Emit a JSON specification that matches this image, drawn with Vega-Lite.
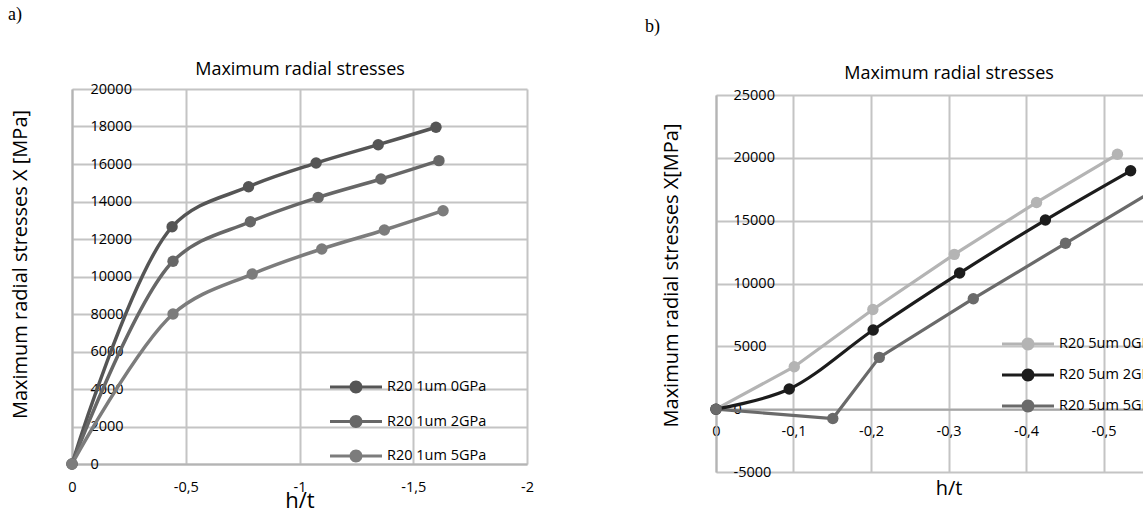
{
  "$schema": "https://vega.github.io/schema/vega-lite/v6.json",
  "background": "white",
  "padding": {"left": 8, "top": 6, "right": 0, "bottom": 0},
  "bounds": "flush",
  "spacing": 189,
  "resolve": {
    "scale": {"color": "independent", "stroke": "independent"},
    "legend": {"color": "independent", "stroke": "independent"}
  },
  "config": {
    "font": "Open Sans",
    "view": {"stroke": null},
    "axis": {
      "labelColor": "#000000",
      "labelFont": "Open Sans",
      "labelFontSize": 14.5,
      "titleColor": "#000000",
      "titleFont": "Open Sans",
      "titleFontWeight": "normal",
      "gridColor": "#c4c4c4",
      "gridWidth": 2,
      "domainColor": "#b4b4b4",
      "domainWidth": 2,
      "ticks": false,
      "labelOverlap": false,
      "labelFlush": false
    },
    "legend": {
      "labelColor": "#000000",
      "labelFont": "Open Sans",
      "labelFontSize": 14.5
    },
    "title": {
      "font": "Liberation Serif",
      "fontSize": 18,
      "fontWeight": "normal",
      "color": "#000000",
      "anchor": "start",
      "frame": "group"
    }
  },
  "datasets": {
    "a": [
      {"series": "R20 1um 0GPa", "h": 0, "s": 0},
      {"series": "R20 1um 0GPa", "h": -0.44, "s": 12650},
      {"series": "R20 1um 0GPa", "h": -0.776, "s": 14790},
      {"series": "R20 1um 0GPa", "h": -1.073, "s": 16050},
      {"series": "R20 1um 0GPa", "h": -1.346, "s": 17030},
      {"series": "R20 1um 0GPa", "h": -1.6, "s": 17960},
      {"series": "R20 1um 2GPa", "h": 0, "s": 0},
      {"series": "R20 1um 2GPa", "h": -0.444, "s": 10810},
      {"series": "R20 1um 2GPa", "h": -0.784, "s": 12920},
      {"series": "R20 1um 2GPa", "h": -1.082, "s": 14220},
      {"series": "R20 1um 2GPa", "h": -1.358, "s": 15200},
      {"series": "R20 1um 2GPa", "h": -1.613, "s": 16180},
      {"series": "R20 1um 5GPa", "h": 0, "s": 0},
      {"series": "R20 1um 5GPa", "h": -0.444, "s": 8000},
      {"series": "R20 1um 5GPa", "h": -0.792, "s": 10130},
      {"series": "R20 1um 5GPa", "h": -1.098, "s": 11470},
      {"series": "R20 1um 5GPa", "h": -1.373, "s": 12480},
      {"series": "R20 1um 5GPa", "h": -1.631, "s": 13510}
    ],
    "b": [
      {"series": "R20 5um 0GPa", "h": 0, "s": 0},
      {"series": "R20 5um 0GPa", "h": -0.101, "s": 3380},
      {"series": "R20 5um 0GPa", "h": -0.2024, "s": 7930},
      {"series": "R20 5um 0GPa", "h": -0.3075, "s": 12320},
      {"series": "R20 5um 0GPa", "h": -0.4136, "s": 16450},
      {"series": "R20 5um 0GPa", "h": -0.518, "s": 20280},
      {"series": "R20 5um 2GPa", "h": 0, "s": 0},
      {"series": "R20 5um 2GPa", "h": -0.0945, "s": 1600},
      {"series": "R20 5um 2GPa", "h": -0.2028, "s": 6300},
      {"series": "R20 5um 2GPa", "h": -0.3144, "s": 10830},
      {"series": "R20 5um 2GPa", "h": -0.425, "s": 15050},
      {"series": "R20 5um 2GPa", "h": -0.535, "s": 18970},
      {"series": "R20 5um 5GPa", "h": 0, "s": 0},
      {"series": "R20 5um 5GPa", "h": -0.1507, "s": -745},
      {"series": "R20 5um 5GPa", "h": -0.2107, "s": 4120},
      {"series": "R20 5um 5GPa", "h": -0.332, "s": 8790},
      {"series": "R20 5um 5GPa", "h": -0.451, "s": 13200},
      {"series": "R20 5um 5GPa", "h": -0.57, "s": 17600}
    ]
  },
  "hconcat": [
    {
      "width": 455,
      "height": 375,
      "title": {"text": "a)", "dx": -64, "offset": 36},
      "data": {"name": "a"},
      "layer": [
        {
          "mark": {"type": "line", "interpolate": "catmull-rom", "strokeWidth": 3.5},
          "encoding": {
            "x": {
              "field": "h", "type": "quantitative",
              "scale": {"domain": [0, -2], "nice": false},
              "axis": {
                "orient": "bottom",
                "values": [0, -0.5, -1, -1.5, -2],
                "labelExpr": "replace(replace(format(datum.value, '~g'), '.', ','), '\u2212', '-')",
                "labelPadding": 16,
                "grid": true,
                "title": "h/t",
                "titleFontSize": 22,
                "titlePadding": -3
              }
            },
            "y": {
              "field": "s", "type": "quantitative",
              "scale": {"domain": [0, 20000], "nice": false},
              "axis": {
                "values": [0, 2000, 4000, 6000, 8000, 10000, 12000, 14000, 16000, 18000, 20000],
                "labelExpr": "replace(format(datum.value, '~g'), '\u2212', '-')",
                "labelAlign": "left",
                "labelBaseline": "middle",
                "labelPadding": -18,
                "grid": true,
                "title": "Maximum radial stresses  X [MPa]",
                "titleFontSize": 20,
                "titlePadding": 42,
                "titleY": 175
              }
            },
            "stroke": {
              "field": "series", "type": "nominal",
              "scale": {"domain": ["R20 1um 5GPa", "R20 1um 2GPa", "R20 1um 0GPa"], "range": ["#7c7c7c", "#676767", "#555555"]},
              "legend": null
            }
          }
        },
        {
          "mark": {"type": "point", "filled": true, "size": 130, "opacity": 1},
          "encoding": {
            "x": {
              "field": "h", "type": "quantitative",
              "axis": {
                "orient": "top",
                "labels": false, "ticks": false, "domain": false, "grid": false,
                "title": "Maximum radial stresses",
                "titleFontSize": 18,
                "titlePadding": 11
              }
            },
            "y": {
              "field": "s", "type": "quantitative",
              "axis": {
                "values": [0, 2000, 4000, 6000, 8000, 10000, 12000, 14000, 16000, 18000, 20000],
                "labelExpr": "replace(format(datum.value, '~g'), '\u2212', '-')",
                "labelAlign": "left",
                "labelBaseline": "middle",
                "labelPadding": -18,
                "grid": true,
                "title": "Maximum radial stresses  X [MPa]",
                "titleFontSize": 20,
                "titlePadding": 42,
                "titleY": 175
              }
            },
            "color": {
              "field": "series", "type": "nominal",
              "scale": {"domain": ["R20 1um 0GPa", "R20 1um 2GPa", "R20 1um 5GPa"], "range": ["#555555", "#676767", "#7c7c7c"]},
              "legend": {
                "title": null,
                "orient": "none",
                "legendX": 271,
                "legendY": 285,
                "direction": "vertical",
                "padding": 0,
                "symbolType": "M-2,-0.12H2V0.12H-2Z M0.5,0A0.5,0.5,0,1,1,-0.5,0A0.5,0.5,0,1,1,0.5,0Z",
                "symbolSize": 676,
                "symbolStrokeWidth": 0,
                "labelOffset": 18,
                "rowPadding": 14.5
              }
            }
          }
        }
      ]
    },
    {
      "width": 465,
      "height": 389,
      "title": {"text": "b)", "dx": -71, "offset": 28},
      "data": {"name": "b"},
      "layer": [
        {
          "transform": [{"filter": "datum.series !== 'R20 5um 2GPa'"}],
          "mark": {"type": "line", "interpolate": "linear", "strokeWidth": 3.2},
          "encoding": {
            "x": {
              "field": "h", "type": "quantitative",
              "scale": {"domain": [0, -0.6], "nice": false},
              "axis": {
                "orient": "bottom",
                "offset": -68.8,
                "values": [0, -0.1, -0.2, -0.3, -0.4, -0.5],
                "labelExpr": "replace(replace(format(datum.value, '~g'), '.', ','), '\u2212', '-')",
                "labelPadding": 15,
                "grid": true,
                "domainColor": "#a6a6a6",
                "title": "h/t",
                "titleFontSize": 20,
                "titlePadding": 41
              }
            },
            "y": {
              "field": "s", "type": "quantitative",
              "scale": {"domain": [-5000, 25000], "range": [383, 6], "nice": false},
              "axis": {
                "values": [-5000, 0, 5000, 10000, 15000, 20000, 25000],
                "labelExpr": "replace(format(datum.value, '~g'), '\u2212', '-')",
                "labelAlign": "left",
                "labelBaseline": "middle",
                "labelPadding": -17,
                "grid": true,
                "title": "Maximum radial stresses X[MPa]",
                "titleFontSize": 20,
                "titlePadding": 35,
                "titleY": 186
              }
            },
            "stroke": {
              "field": "series", "type": "nominal",
              "scale": {"domain": ["R20 5um 5GPa", "R20 5um 2GPa", "R20 5um 0GPa"], "range": ["#6a6a6a", "#1c1c1c", "#b4b4b4"]},
              "legend": null
            }
          }
        },
        {
          "transform": [{"filter": "datum.series === 'R20 5um 2GPa'"}],
          "mark": {"type": "line", "interpolate": "catmull-rom", "strokeWidth": 3.2},
          "encoding": {
            "x": {"field": "h", "type": "quantitative", "axis": null},
            "y": {
              "field": "s", "type": "quantitative",
              "axis": {
                "values": [-5000, 0, 5000, 10000, 15000, 20000, 25000],
                "labelExpr": "replace(format(datum.value, '~g'), '\u2212', '-')",
                "labelAlign": "left",
                "labelBaseline": "middle",
                "labelPadding": -17,
                "grid": true,
                "title": "Maximum radial stresses X[MPa]",
                "titleFontSize": 20,
                "titlePadding": 35,
                "titleY": 186
              }
            },
            "stroke": {"field": "series", "type": "nominal", "legend": null}
          }
        },
        {
          "mark": {"type": "point", "filled": true, "size": 130, "opacity": 1},
          "encoding": {
            "x": {
              "field": "h", "type": "quantitative",
              "axis": {
                "orient": "top",
                "labels": false, "ticks": false, "domain": false, "grid": false,
                "title": "Maximum radial stresses",
                "titleFontSize": 18,
                "titlePadding": 7
              }
            },
            "y": {
              "field": "s", "type": "quantitative",
              "axis": {
                "values": [-5000, 0, 5000, 10000, 15000, 20000, 25000],
                "labelExpr": "replace(format(datum.value, '~g'), '\u2212', '-')",
                "labelAlign": "left",
                "labelBaseline": "middle",
                "labelPadding": -17,
                "grid": true,
                "title": "Maximum radial stresses X[MPa]",
                "titleFontSize": 20,
                "titlePadding": 35,
                "titleY": 186
              }
            },
            "color": {
              "field": "series", "type": "nominal",
              "scale": {"domain": ["R20 5um 0GPa", "R20 5um 2GPa", "R20 5um 5GPa"], "range": ["#b4b4b4", "#1c1c1c", "#6a6a6a"]},
              "legend": {
                "title": null,
                "orient": "none",
                "legendX": 299,
                "legendY": 242,
                "direction": "vertical",
                "padding": 0,
                "symbolType": "M-2,-0.12H2V0.12H-2Z M0.5,0A0.5,0.5,0,1,1,-0.5,0A0.5,0.5,0,1,1,0.5,0Z",
                "symbolSize": 676,
                "symbolStrokeWidth": 0,
                "labelOffset": 18,
                "rowPadding": 11
              }
            }
          }
        }
      ]
    }
  ]
}
